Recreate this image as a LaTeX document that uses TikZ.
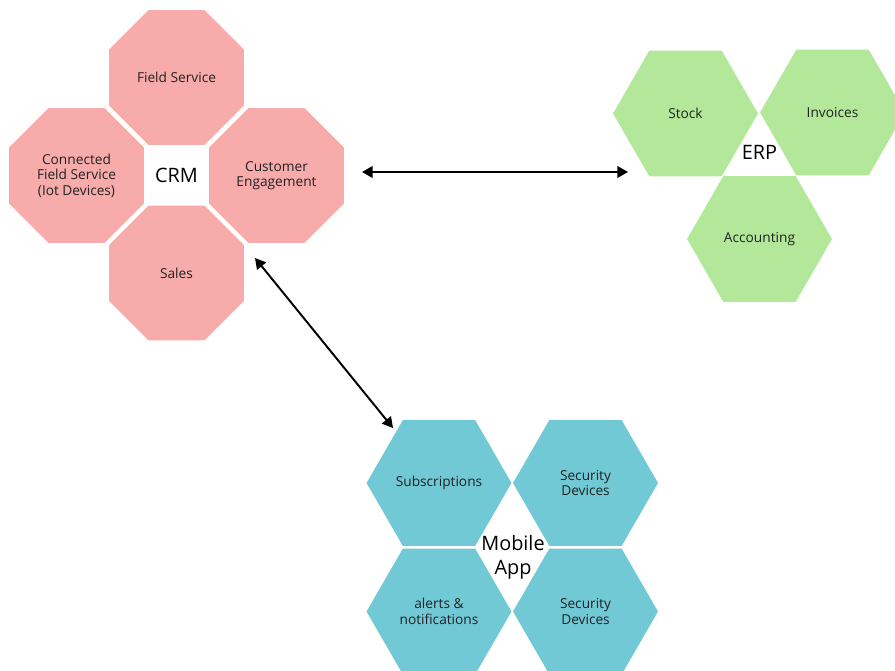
\documentclass[tikz,border=0pt]{standalone}
\usepackage{fontspec}
\setmainfont{Open Sans}
\usetikzlibrary{positioning, shapes.geometric, arrows.meta}
\definecolor{crmpink}{RGB}{247,171,171}
\definecolor{erpgreen}{RGB}{179,232,154}
\definecolor{appcyan}{RGB}{113,201,213}
\definecolor{labelgray}{RGB}{34,34,34}

\begin{document}
\begin{tikzpicture}[x=0.02cm, y=-0.02cm,
        octa/.style={regular polygon, regular polygon sides=8, minimum size=2.922cm, inner sep=0pt,
            fill=crmpink, align=center, text=labelgray, font=\fontsize{7.8}{8.8}\selectfont},
        hexa/.style={regular polygon, regular polygon sides=6, minimum size=2.9cm, inner sep=0pt,
            align=center, text=labelgray, font=\fontsize{7.8}{8.8}\selectfont},
        hub/.style={align=center, font=\fontsize{11.3}{14}\selectfont},
        link/.style={<->, >={Triangle[length=6pt, width=6.5pt]}, line width=1.1pt}]
            \useasboundingbox (0, 0) rectangle (895, 671);
            \clip (0, 0) rectangle (895, 671);

            % CRM
            \node [octa] (FieldService) at (176.5, 77.5) {Field Service};
            \node [octa] (Connected) at (76.5, 175.5) {Connected\\Field Service\\(Iot Devices)};
            \node [octa] (Engagement) at (276.5, 175.5) {Customer\\Engagement};
            \node [octa] (Sales) at (176.5, 273) {Sales};
            \node [hub] (CRM) at (176.5, 175.5) {CRM};

            % ERP
            \node [hexa, fill=erpgreen] (Stock) at (685.5, 113.5) {Stock};
            \node [hexa, fill=erpgreen] (Invoices) at (832.5, 112.5) {Invoices};
            \node [hexa, fill=erpgreen] (Accounting) at (759.5, 239) {Accounting};
            \node [hub] (ERP) at (759.5, 152) {ERP};

            % Mobile App
            \node [hexa, fill=appcyan] (Subscriptions) at (439, 483) {Subscriptions};
            \node [hexa, fill=appcyan] (SecurityA) at (585.5, 483) {Security\\Devices};
            \node [hexa, fill=appcyan] (Alerts) at (439, 611.5) {alerts \&\\notifications};
            \node [hexa, fill=appcyan] (SecurityB) at (585.5, 611.5) {Security\\Devices};
            \node [hub] (App) at (513, 557.5) {Mobile\\App};

            \coordinate (crmToErp) at (362, 172);
            \coordinate (erpFromCrm) at (628, 172);
            \coordinate (crmToApp) at (255, 258);
            \coordinate (appFromCrm) at (393, 428);

            \draw [link] (crmToErp) -- (erpFromCrm);
            \draw [link] (crmToApp) -- (appFromCrm);
        \end{tikzpicture}
\end{document}
